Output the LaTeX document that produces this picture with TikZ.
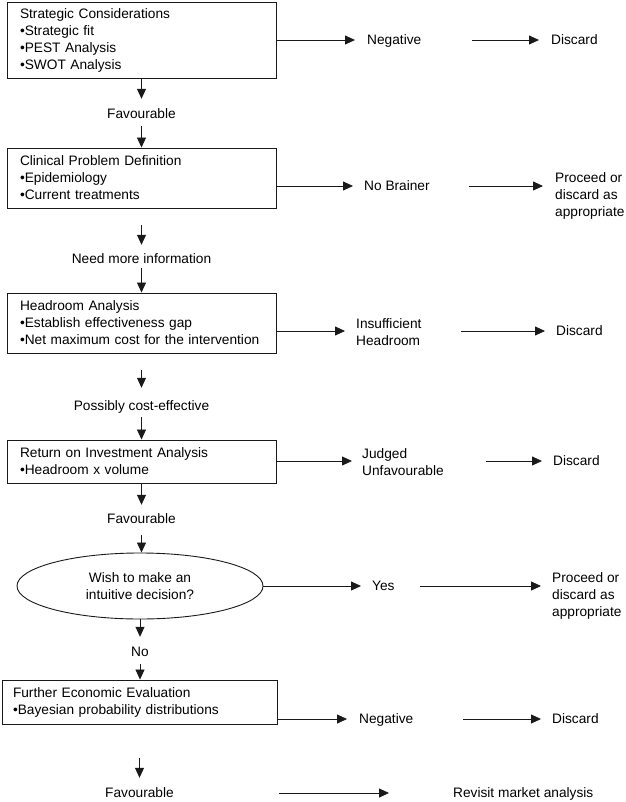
\documentclass[tikz,border=0pt]{standalone}
\usepackage{fontspec}
\setmainfont{Liberation Sans}
\usetikzlibrary{arrows.meta,shapes.geometric}
\definecolor{linea}{HTML}{1A1A1A}

\begin{document}
\begin{tikzpicture}[x=1pt,y=-1pt,
    font=\fontsize{13.7pt}{17pt}\selectfont,
    panel/.style={draw=linea,line width=0.9pt,align=left,inner xsep=13pt,
                  text width=243pt,inner ysep=0pt},
    lab/.style={inner sep=0pt,text height=11.4pt,text depth=1.6pt},
    mlab/.style={inner sep=0pt,align=left,anchor=west},
    flow/.style={linea,line width=0.8pt,-{Triangle[length=10pt,width=9pt]}}]
    \useasboundingbox (0,0) rectangle (625,802);

    % ---- Cajas de la columna izquierda ----
    \node[panel,minimum height=76pt] (box1) at (141.5,40)
        {Strategic Considerations\\\textbullet Strategic fit\\\textbullet PEST Analysis\\\textbullet SWOT Analysis};
    \node[panel,minimum height=60pt] (box2) at (141.5,178)
        {Clinical Problem Definition\\\textbullet Epidemiology\\\textbullet Current treatments};
    \node[panel,minimum height=60pt] (box3) at (141.5,323)
        {Headroom Analysis\\\textbullet Establish effectiveness gap\\\textbullet Net maximum cost for the intervention};
    \node[panel,minimum height=43pt] (box4) at (141.5,461.5)
        {Return on Investment Analysis\\\textbullet Headroom x volume};
    \node[draw=linea,line width=0.9pt,ellipse,minimum width=246pt,minimum height=66pt,
          inner sep=0pt,align=center] (ell) at (140,586)
        {Wish to make an\\intuitive decision?};
    \node[panel,minimum height=44pt,inner xsep=11pt,text width=253pt] (box5) at (139.5,702)
        {Further Economic Evaluation\\\textbullet Bayesian probability distributions};

    % ---- Etiquetas entre cajas ----
    \node[lab] (fav1) at (141.5,114) {Favourable};
    \node[lab] (need) at (141.5,259) {Need more information};
    \node[lab] (poss) at (141.5,406) {Possibly cost-effective};
    \node[lab] (fav2) at (141.5,519) {Favourable};
    \node[lab] (no)   at (140,652)   {No};
    \node[lab] (fav3) at (139.5,793) {Favourable};

    % ---- Resultados a la derecha ----
    \node[lab,anchor=west] (neg1) at (367,40)  {Negative};
    \node[lab,anchor=west] (disc1) at (551,40) {Discard};
    \node[lab,anchor=west] (nobr) at (364,186) {No Brainer};
    \node[mlab] (proc1) at (555,196) {Proceed or\\discard as\\appropriate};
    \node[mlab] (insuf) at (356,332) {Insufficient\\Headroom};
    \node[lab,anchor=west] (disc3) at (556,331) {Discard};
    \node[mlab] (judg) at (362,462) {Judged\\Unfavourable};
    \node[lab,anchor=west] (disc4) at (553,461) {Discard};
    \node[lab,anchor=west] (yes) at (372,586) {Yes};
    \node[mlab] (proc2) at (552,596) {Proceed or\\discard as\\appropriate};
    \node[lab,anchor=west] (neg2) at (359,719) {Negative};
    \node[lab,anchor=west] (disc6) at (552,719) {Discard};
    \node[lab,anchor=west] (rev) at (453,793) {Revisit market analysis};

    % ---- Flechas verticales ----
    \draw[flow,shorten >=8.5pt] (box1.south) -- (fav1.north);
    \draw[flow,shorten <=5.5pt] (fav1.south) -- (box2.north);
    \draw[flow,shorten <=17pt,shorten >=7.5pt] (box2.south) -- (need.north);
    \draw[flow,shorten <=2.5pt] (need.south) -- (box3.north);
    \draw[flow,shorten <=17pt,shorten >=11.5pt] (box3.south) -- (poss.north);
    \draw[flow,shorten <=4.5pt] (poss.south) -- (box4.north);
    \draw[flow,shorten >=7.5pt] (box4.south) -- (fav2.north);
    \draw[flow,shorten <=9.5pt] (fav2.south) -- (fav2.south |- ell.north);
    \draw[flow,shorten >=8.5pt] (ell.south) -- (no.north);
    \draw[flow,shorten <=5.5pt] (no.south) -- (no.south |- box5.north);
    \draw[flow,shorten <=34pt,shorten >=8.5pt] (box5.south -| fav3) -- (fav3.north);

    % ---- Flechas horizontales ----
    \draw[flow,shorten >=12pt] (box1.east |- neg1) -- (neg1.west);
    \draw[flow,shorten <=51pt,shorten >=12pt] (neg1.east) -- (disc1.west);
    \draw[flow,shorten >=11pt] (box2.east |- nobr) -- (nobr.west);
    \draw[flow,shorten <=39pt,shorten >=12pt] (nobr.east) -- (nobr.east -| proc1.west);
    \draw[flow,shorten >=11pt] (box3.east |- disc3) -- (disc3 -| insuf.west);
    \draw[flow,shorten <=39.5pt,shorten >=11pt] (disc3 -| insuf.east) -- (disc3.west);
    \draw[flow,shorten >=10pt] (box4.east |- disc4) -- (disc4 -| judg.west);
    \draw[flow,shorten <=42.5pt,shorten >=11pt] (disc4 -| judg.east) -- (disc4.west);
    \draw[flow,shorten >=11pt] (ell.east) -- (yes.west);
    \draw[flow,shorten <=25.4pt,shorten >=11pt] (yes.east) -- (yes.east -| proc2.west);
    \draw[flow,shorten >=12pt] (box5.east |- neg2) -- (neg2.west);
    \draw[flow,shorten <=50pt,shorten >=11pt] (neg2.east) -- (disc6.west);
    \draw[flow,shorten <=105pt,shorten >=64pt] (fav3.east |- rev) -- (rev.west);

\end{tikzpicture}
\end{document}
